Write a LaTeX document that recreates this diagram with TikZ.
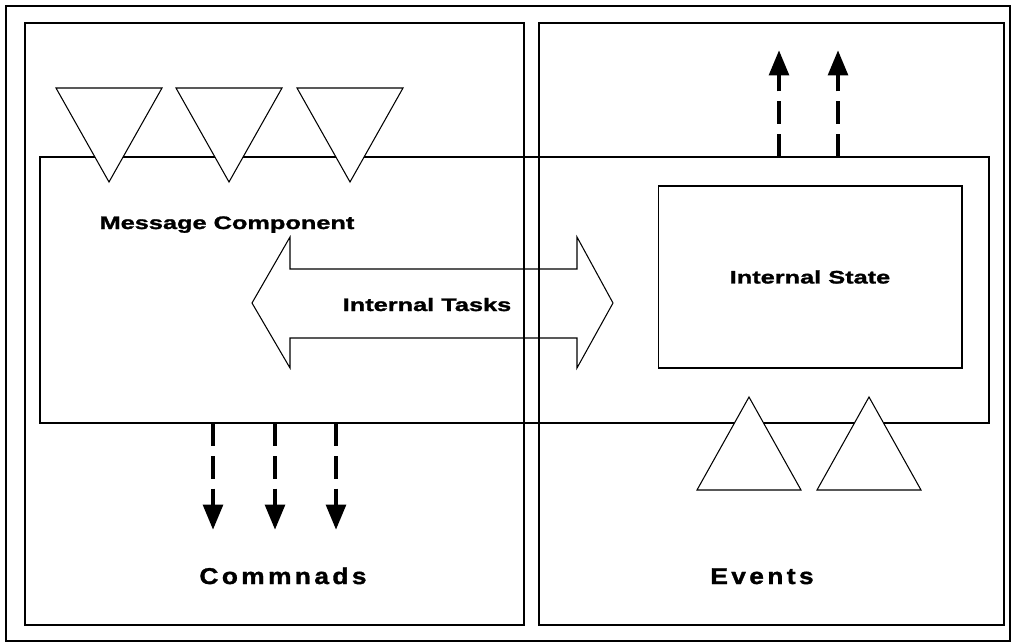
\documentclass[tikz,border=0pt]{standalone}
\usepackage{fontspec}
\setmainfont{Liberation Sans}
\newfontfamily\lblfont[FakeStretch=1.4,FakeBold=1.5]{Liberation Sans}
\newfontfamily\bigfont[FakeStretch=1.15,LetterSpace=15,FakeBold=1.5]{Liberation Sans}
\usetikzlibrary{arrows.meta,fit}

\begin{document}
\begin{tikzpicture}[x=0.02cm, y=-0.02cm]
	\tikzstyle{every node}=[inner sep=0pt, align=center]
	\tikzstyle{box}=[draw, line width=0.6pt]
	\tikzstyle{lbl}=[font=\lblfont\bfseries\fontsize{10.3}{12}\selectfont, anchor=base]
	\tikzstyle{big}=[font=\bigfont\bfseries\fontsize{13}{15}\selectfont, anchor=base]
	\tikzstyle{flow}=[line width=2.8pt, dash pattern=on 13pt off 5.5pt, -{Triangle[width=11pt,length=14.5pt]}]
	\useasboundingbox (0,0) rectangle (1014,643);
	% frame and the two halves
	\draw [line width=1.2pt] (6,6) rectangle (1010,641);
	\draw [box] (25,23) rectangle (524,625);
	\draw [box] (539,23) rectangle (1004,625);
	% message component
	\coordinate (coreNW) at (40,157);
	\coordinate (coreSE) at (989,423);
	\node [box, fit=(coreNW)(coreSE)] (core) {};
	\node [lbl] (msgLbl) at (227,229) {Message Component};
	\node [box, minimum width=6.08cm, minimum height=3.64cm, font=\lblfont\bfseries\fontsize{10.3}{12}\selectfont] (state) at (810,277) {Internal State};
	% internal tasks
	\draw [box] (252,303) -- (290,237) -- (290,269) -- (577,269) -- (577,237) -- (613,303)
		-- (577,368) -- (577,338) -- (290,338) -- (290,368) -- cycle;
	\node [lbl] (taskLbl) at (427,311) {Internal Tasks};
	% ports
	\foreach \cx in {109,229,350}
		\draw [box, fill=white] (\cx-53,88) -- (\cx+53,88) -- (\cx,182) -- cycle;
	\foreach \cx in {749,869}
		\draw [box, fill=white] (\cx-52,490) -- (\cx+52,490) -- (\cx,397) -- cycle;
	% commands and events
	\coordinate (cmdA) at (213,530);
	\coordinate (cmdB) at (275,530);
	\coordinate (cmdC) at (336,530);
	\coordinate (evtA) at (779,50);
	\coordinate (evtB) at (838,50);
	\draw [flow] (cmdA |- core.south) -- (cmdA);
	\draw [flow] (cmdB |- core.south) -- (cmdB);
	\draw [flow] (cmdC |- core.south) -- (cmdC);
	\draw [flow] (evtA |- core.north) -- (evtA);
	\draw [flow] (evtB |- core.north) -- (evtB);
	\node [big] (cmdLbl) at (283,584) {Commnads};
	\node [big] (evtLbl) at (762,584) {Events};
\end{tikzpicture}
\end{document}
